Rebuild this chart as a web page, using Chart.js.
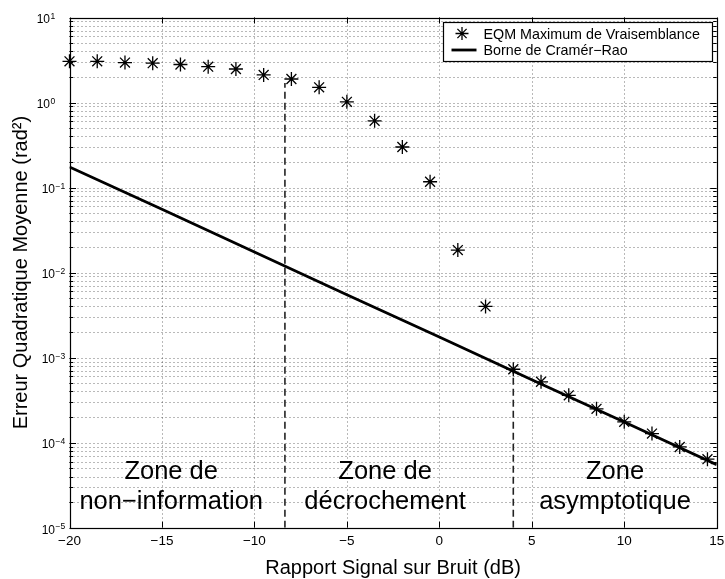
<!DOCTYPE html>
<html><head><meta charset="utf-8">
<script src="https://cdn.jsdelivr.net/npm/chart.js@4/dist/chart.umd.min.js"></script>
<style>html,body{margin:0;padding:0;background:#fff;overflow:hidden}canvas{display:block}</style>
</head><body>
<canvas id="c" width="725" height="579"></canvas>
<script>
// ---- data ----
const snrML = [-20,-18.5,-17,-15.5,-14,-12.5,-11,-9.5,-8,-6.5,-5,-3.5,-2,-0.5,1,2.5,4,5.5,7,8.5,10,11.5,13,14.5];
const eqmML = [3.05,3.05,2.95,2.9,2.8,2.64,2.48,2.11,1.89,1.51,1.02,0.61,0.30,0.117,0.0184,0.0040,7.3e-4,5.2e-4,3.6e-4,2.5e-4,1.76e-4,1.28e-4,8.9e-5,6.4e-5];
const snrCRB = [-20,-15,-10,-5,0,5,10,15];
const crb = [0.175,0.0555,0.0175,0.0055,0.00175,0.00055,0.000175,0.000055];
const dashX = [-8.35, 4];
const dashTop = [1.7, 7.2e-4];
const xTicks = [-20,-15,-10,-5,0,5,10,15];
const yExponents = [-5,-4,-3,-2,-1,0,1];
const zoneLabels = [["Zone de","non\u2212information"],["Zone de","d\u00e9crochement"],["Zone","asymptotique"]];
const zoneX = [-14.5,-2.93,9.5];
const legendLabels = ["EQM Maximum de Vraisemblance","Borne de Cram\u00e9r\u2212Rao"];
const xTitle = "Rapport Signal sur Bruit (dB)";
const yTitle = "Erreur Quadratique Moyenne (rad\u00b2)";

const FONT = "'Liberation Sans', Arial, Helvetica, sans-serif";

const matlabPlugin = {
  id: 'matlab',
  beforeDatasetsDraw(chart) {
    const {ctx, chartArea: a, scales: {x, y}} = chart;
    ctx.save();
    ctx.strokeStyle = 'rgba(0,0,0,0.55)';
    ctx.lineWidth = 1;
    ctx.setLineDash([1, 3]);
    ctx.beginPath();
    for (const v of xTicks) {
      const px = Math.round(x.getPixelForValue(v)) + 0.5;
      if (px <= a.left + 2 || px >= a.right - 2) continue;
      ctx.moveTo(px, a.top); ctx.lineTo(px, a.bottom);
    }
    for (const e of yExponents) {
      for (let k = 1; k <= 9; k++) {
        const v = k * Math.pow(10, e);
        const py = Math.round(y.getPixelForValue(v)) + 0.5;
        if (py <= a.top + 2 || py >= a.bottom - 2) continue;
        ctx.moveTo(a.left, py); ctx.lineTo(a.right, py);
      }
    }
    ctx.stroke();
    ctx.restore();
  },
  afterDatasetsDraw(chart) {
    const {ctx, chartArea: a, scales: {x, y}} = chart;
    ctx.save();
    ctx.setLineDash([]);
    // box
    ctx.strokeStyle = '#000';
    ctx.lineWidth = 1.2;
    ctx.strokeRect(Math.round(a.left)+0.5, Math.round(a.top)+0.5, Math.round(a.right)-Math.round(a.left), Math.round(a.bottom)-Math.round(a.top));
    // ticks
    ctx.lineWidth = 1;
    ctx.beginPath();
    for (const v of xTicks) {
      const px = Math.round(x.getPixelForValue(v)) + 0.5;
      ctx.moveTo(px, a.bottom); ctx.lineTo(px, a.bottom - 6);
      ctx.moveTo(px, a.top); ctx.lineTo(px, a.top + 6);
    }
    for (const e of yExponents) {
      for (let k = 1; k <= 9; k++) {
        const v = k * Math.pow(10, e);
        if (v > 10.0001) continue;
        const py = Math.round(y.getPixelForValue(v)) + 0.5;
        const len = k === 1 ? 6.5 : 3.5;
        ctx.moveTo(a.left, py); ctx.lineTo(a.left + len, py);
        ctx.moveTo(a.right, py); ctx.lineTo(a.right - len, py);
      }
    }
    ctx.stroke();
    // x tick labels
    ctx.fillStyle = '#000';
    ctx.font = '13.5px ' + FONT;
    ctx.textAlign = 'center';
    ctx.textBaseline = 'alphabetic';
    for (const v of xTicks) {
      const s = v < 0 ? '\u2212' + Math.abs(v) : String(v);
      ctx.fillText(s, x.getPixelForValue(v), a.bottom + 17.5);
    }
    // y tick labels
    for (const e of yExponents) {
      const py = y.getPixelForValue(Math.pow(10, e));
      const baseRight = e < 0 ? a.left - 14.5 : a.left - 19.5;
      ctx.font = '12px ' + FONT;
      ctx.textAlign = 'right';
      ctx.fillText('10', baseRight, py + 5.8);
      ctx.font = '8.5px ' + FONT;
      ctx.textAlign = 'left';
      const es = e < 0 ? '\u2212' + Math.abs(e) : String(e);
      ctx.fillText(es, baseRight + 0.5, py + 1.5);
    }
    // axis titles
    ctx.font = '20px ' + FONT;
    ctx.textAlign = 'center';
    ctx.fillText(xTitle, (a.left + a.right) / 2, a.bottom + 46.5);
    ctx.save();
    ctx.translate(27, (a.top + a.bottom) / 2);
    ctx.rotate(-Math.PI / 2);
    ctx.fillText(yTitle, 0, 0);
    ctx.restore();
    // zone labels
    ctx.font = '25.5px ' + FONT;
    ctx.textAlign = 'center';
    zoneLabels.forEach((lines, i) => {
      const px = x.getPixelForValue(zoneX[i]);
      ctx.fillText(lines[0], px, a.bottom - 48.5);
      ctx.fillText(lines[1], px, a.bottom - 18.5);
    });
    // legend
    const lx0 = 443.5, ly0 = 22.5, lx1 = 712.5, ly1 = 61.5;
    ctx.fillStyle = '#fff';
    ctx.fillRect(lx0, ly0, lx1 - lx0, ly1 - ly0);
    ctx.strokeStyle = '#000';
    ctx.lineWidth = 1.2;
    ctx.strokeRect(lx0, ly0, lx1 - lx0, ly1 - ly0);
    // star symbol
    const sx = 462, sy = 33.5, r = 6.5;
    ctx.lineWidth = 1.3;
    ctx.beginPath();
    ctx.moveTo(sx - r, sy); ctx.lineTo(sx + r, sy);
    ctx.moveTo(sx, sy - r); ctx.lineTo(sx, sy + r);
    const d = r * Math.SQRT1_2;
    ctx.moveTo(sx - d, sy - d); ctx.lineTo(sx + d, sy + d);
    ctx.moveTo(sx - d, sy + d); ctx.lineTo(sx + d, sy - d);
    ctx.stroke();
    // line symbol
    ctx.lineWidth = 2.8;
    ctx.beginPath();
    ctx.moveTo(451.5, 50); ctx.lineTo(476.5, 50);
    ctx.stroke();
    ctx.fillStyle = '#000';
    ctx.font = '14.3px ' + FONT;
    ctx.textAlign = 'left';
    ctx.fillText(legendLabels[0], 483.5, 38.8);
    ctx.fillText(legendLabels[1], 483.5, 55.3);
    ctx.restore();
  }
};

const dashSets = dashX.map((dx, i) => ({
  label: 'dash' + i,
  data: [{x: dx, y: 1e-5}, {x: dx, y: dashTop[i]}],
  showLine: true,
  borderColor: '#222',
  borderWidth: 1.6,
  borderDash: [7, 4],
  pointRadius: 0,
  order: 2
}));

new Chart(document.getElementById('c').getContext('2d'), {
  type: 'scatter',
  data: {
    datasets: [
      {
        label: legendLabels[0],
        data: snrML.map((v, i) => ({x: v, y: eqmML[i]})),
        showLine: false,
        pointStyle: 'star',
        pointRadius: 7,
        pointBorderWidth: 1.3,
        borderColor: '#000',
        backgroundColor: '#000',
        clip: false,
        order: 0
      },
      {
        label: legendLabels[1],
        data: snrCRB.map((v, i) => ({x: v, y: crb[i]})),
        showLine: true,
        borderColor: '#000',
        borderWidth: 2.8,
        pointRadius: 0,
        tension: 0,
        order: 1
      },
      ...dashSets
    ]
  },
  options: {
    responsive: false,
    animation: false,
    devicePixelRatio: 1,
    layout: {padding: {left: 69.5, top: 17.5, right: 8.3, bottom: 51.3}},
    plugins: {legend: {display: false}, tooltip: {enabled: false}},
    scales: {
      x: {type: 'linear', min: -20, max: 15, display: false},
      y: {type: 'logarithmic', min: 1e-5, max: 10, display: false}
    }
  },
  plugins: [matlabPlugin]
});
</script>
</body></html>
